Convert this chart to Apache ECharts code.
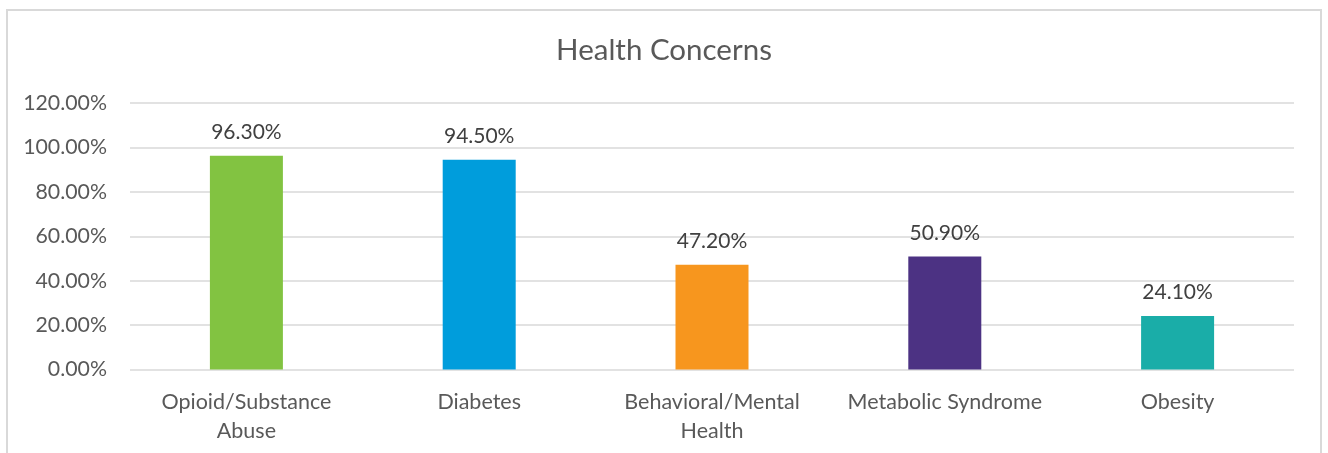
<!DOCTYPE html>
<html>
<head>
<meta charset="utf-8">
<script src="https://cdn.jsdelivr.net/npm/echarts@6/dist/echarts.min.js"></script>
<style>html,body{margin:0;padding:0;background:#fff}#c{width:1328px;height:453px}</style>
</head>
<body>
<div id="c"></div>
<script>
const categories = ["Opioid/Substance\nAbuse", "Diabetes", "Behavioral/Mental\nHealth", "Metabolic Syndrome", "Obesity"];
const values = [96.3, 94.5, 47.2, 50.9, 24.1];
const colors = ["#82C341", "#009DDC", "#F7961E", "#4C3283", "#1AADA8"];
const title = "Health Concerns";
const FONT = "Lato, 'Open Sans', sans-serif";
const chart = echarts.init(document.getElementById('c'), null, {renderer: 'canvas'});
chart.setOption({
  animation: false,
  backgroundColor: '#fff',
  title: {
    text: title, left: 'center', top: 30,
    textStyle: {fontFamily: FONT, fontSize: 29.5, fontWeight: 'normal', color: '#595959'}
  },
  graphic: [{
    type: 'rect', shape: {x: 7, y: 10, width: 1314, height: 460},
    style: {fill: 'none', stroke: '#d9d9d9', lineWidth: 2}, silent: true
  }],
  grid: {left: 130, right: 34, top: 103, bottom: 83.5, containLabel: false},
  xAxis: {
    type: 'category', data: categories,
    axisLine: {show: false}, axisTick: {show: false},
    axisLabel: {fontFamily: FONT, fontSize: 21.5, color: '#595959', margin: 18, lineHeight: 29, interval: 0}
  },
  yAxis: {
    type: 'value', min: 0, max: 120, interval: 20,
    axisLine: {show: false}, axisTick: {show: false},
    splitLine: {lineStyle: {color: '#d9d9d9', width: 1.5}},
    axisLabel: {fontFamily: FONT, fontSize: 21.3, color: '#595959', margin: 23,
      formatter: v => v.toFixed(2) + '%'}
  },
  series: [{
    type: 'bar', barWidth: 73,
    data: values.map((v, i) => ({value: v, itemStyle: {color: colors[i]}})),
    label: {show: true, position: 'top', distance: 13, fontFamily: FONT, fontSize: 21, color: '#404040',
      formatter: p => p.value.toFixed(2) + '%'}
  }]
});
</script>
</body>
</html>
